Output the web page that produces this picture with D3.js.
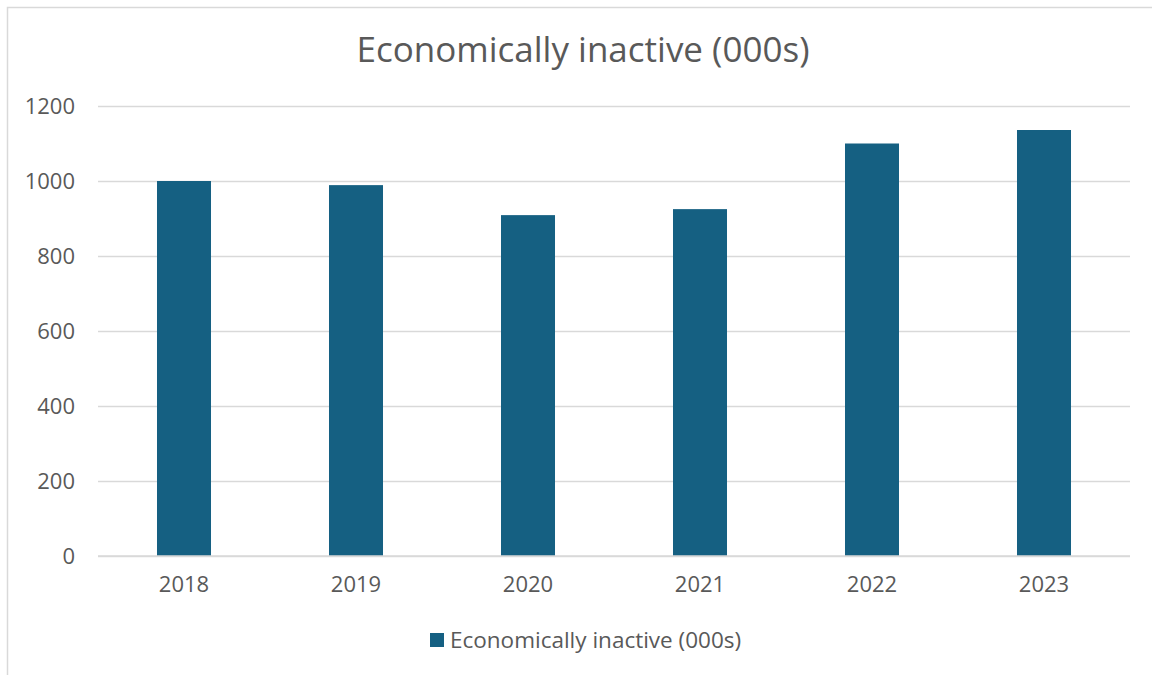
<!DOCTYPE html>
<html>
<head>
<meta charset="utf-8">
<script src="https://cdn.jsdelivr.net/npm/d3@7"></script>
<style>
  html, body { margin: 0; padding: 0; background: #fff; }
  svg { display: block; font-family: "Open Sans", sans-serif; }
</style>
</head>
<body>
<div id="chart"></div>
<script>
// Economically inactive (000s), by year
const years = ['2018', '2019', '2020', '2021', '2022', '2023'];
const values = [1000, 989, 909, 925, 1100, 1136];
const yTicks = [0, 200, 400, 600, 800, 1000, 1200];
const seriesName = 'Economically inactive (000s)';

const W = 1152, H = 675;
const margin = { top: 106, right: 22, bottom: 119, left: 98 };
const w = W - margin.left - margin.right;
const h = H - margin.top - margin.bottom;
const barColor = '#156082';
const textColor = '#595959';

const svg = d3.select('#chart').append('svg')
  .attr('width', W).attr('height', H);

// chart border (runs off the right and bottom edge)
svg.append('rect')
  .attr('x', 7.5).attr('y', 7.5)
  .attr('width', W + 10).attr('height', H + 10)
  .attr('fill', 'none').attr('stroke', '#d9d9d9').attr('stroke-width', 1.5);

svg.append('text')
  .attr('x', 583).attr('y', 62).attr('text-anchor', 'middle')
  .style('font-size', '35px').style('fill', textColor)
  .text(seriesName);

const g = svg.append('g').attr('transform', `translate(${margin.left},${margin.top})`);

const x = d3.scaleBand().domain(years).range([0, w]).paddingInner(0.686).paddingOuter(0.343);
const y = d3.scaleLinear().domain([0, 1200]).range([h, 0]);

// gridlines
g.append('g')
  .call(d3.axisLeft(y).tickValues(yTicks).tickSize(-w).tickFormat(''))
  .call(s => s.select('.domain').remove())
  .call(s => s.selectAll('line').style('stroke', '#d9d9d9').style('stroke-width', 1.5));

// bars
g.selectAll('.bar')
  .data(values)
  .join('rect')
  .attr('class', 'bar')
  .attr('x', (d, i) => x(years[i]))
  .attr('width', x.bandwidth())
  .attr('y', d => y(d))
  .attr('height', d => h - y(d))
  .attr('fill', barColor);

// y axis labels
g.append('g')
  .call(d3.axisLeft(y).tickValues(yTicks).tickFormat(d3.format('d')).tickSize(0).tickPadding(23))
  .call(s => s.select('.domain').remove())
  .call(s => s.selectAll('text').style('font-size', '22px').style('fill', textColor)
    .style('font-family', '"Open Sans", sans-serif'));

// x axis baseline
g.append('line')
  .attr('x1', 0).attr('x2', w).attr('y1', y(0)).attr('y2', y(0))
  .style('stroke', '#d9d9d9').style('stroke-width', 1.5);

g.append('g')
  .attr('transform', `translate(0,${h})`)
  .call(d3.axisBottom(x).tickSize(0).tickPadding(20))
  .call(s => s.select('.domain').remove())
  .call(s => s.selectAll('text').style('font-size', '22px').style('fill', textColor)
    .style('font-family', '"Open Sans", sans-serif'));

// legend
const leg = svg.append('g').attr('transform', 'translate(430,633)');
leg.append('rect').attr('width', 14).attr('height', 14).attr('fill', barColor);
leg.append('text').attr('x', 20).attr('y', 15)
  .style('font-size', '22.5px').style('fill', textColor)
  .text(seriesName);
</script>
</body>
</html>
